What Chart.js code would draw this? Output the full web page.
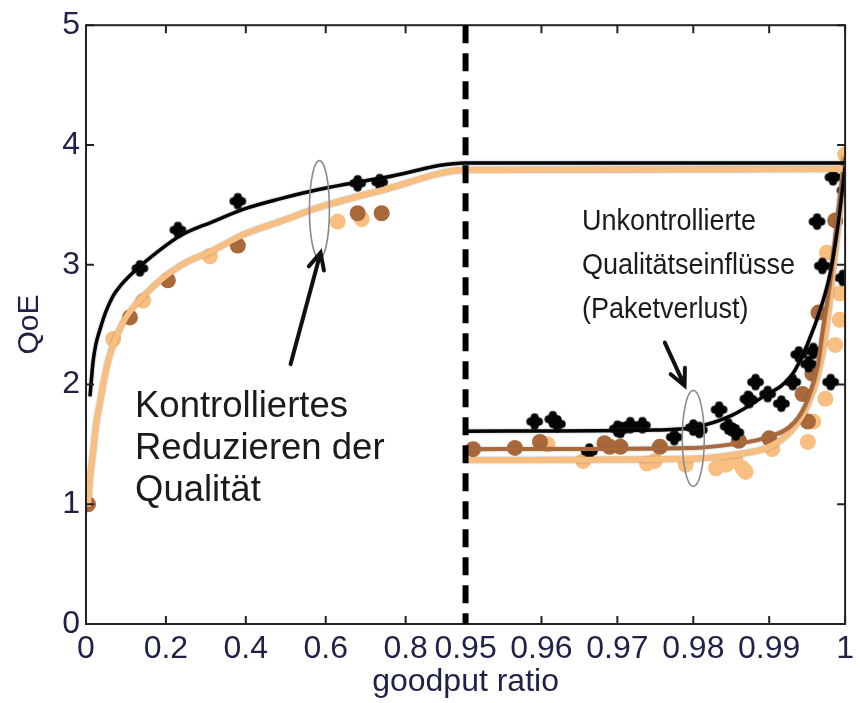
<!DOCTYPE html>
<html>
<head>
<meta charset="utf-8">
<script src="https://cdn.jsdelivr.net/npm/chart.js@4.4.1/dist/chart.umd.min.js"></script>
<style>
  html, body { margin: 0; padding: 0; background: #fff; }
  #wrap { width: 860px; height: 703px; position: relative; }
</style>
</head>
<body>
<div id="wrap"><canvas id="qoeChart"></canvas></div>
<script>
// goodput ratio -> position on the split axis (0..0.95 left half, 0.95..1 right half)
function toPos(g) {
  return g <= 0.95 ? g / 0.95 : 1 + (g - 0.95) / 0.05;
}

// x ticks
const xTickValues = [0, 0.2, 0.4, 0.6, 0.8, 0.95, 0.96, 0.97, 0.98, 0.99, 1];
const xTickLabels = ["0", "0.2", "0.4", "0.6", "0.8", "0.95", "0.96", "0.97", "0.98", "0.99", "1"];

// fitted curves: controlled quality reduction (continues flat above 0.95)
const ctrlBlackX = [0.01, 0.014, 0.018, 0.025, 0.035, 0.05, 0.068, 0.09, 0.11, 0.15, 0.235, 0.318, 0.40, 0.485, 0.585, 0.75, 0.95, 1.0];
const ctrlBlackY = [1.90, 2.06, 2.20, 2.34, 2.46, 2.61, 2.74, 2.84, 2.91, 3.03, 3.24, 3.36, 3.47, 3.55, 3.63, 3.73, 3.85, 3.85];
const ctrlOrangeX = [0.005, 0.01, 0.018, 0.025, 0.035, 0.047, 0.06, 0.093, 0.15, 0.235, 0.318, 0.40, 0.485, 0.585, 0.75, 0.95, 1.0];
const ctrlOrangeY = [0.98, 1.22, 1.44, 1.66, 1.85, 2.07, 2.25, 2.52, 2.76, 2.99, 3.12, 3.26, 3.36, 3.48, 3.63, 3.79, 3.80];

// fitted curves: packet loss
const lossBlackX = [0.95, 0.975, 0.98, 0.985, 0.989, 0.993, 0.995, 0.997, 0.998, 0.999, 1.0];
const lossBlackY = [1.61, 1.62, 1.64, 1.74, 1.89, 2.08, 2.33, 2.68, 2.92, 3.30, 3.82];
const lossBrownX = [0.95, 0.98, 0.985, 0.9892, 0.9934, 0.9951, 0.9964, 0.997, 0.998, 0.9991, 1.0];
const lossBrownY = [1.46, 1.47, 1.50, 1.55, 1.69, 1.88, 2.16, 2.43, 2.85, 3.45, 3.90];
const lossOrangeX = [0.95, 0.98, 0.985, 0.99, 0.993, 0.995, 0.9965, 0.9975, 0.9985, 0.9993, 1.0];
const lossOrangeY = [1.37, 1.38, 1.41, 1.48, 1.62, 1.82, 2.10, 2.45, 3.00, 3.45, 3.92];

// measured points
const blackPtsX = [0.135, 0.23, 0.38, 0.68, 0.735,
  0.9591, 0.9615, 0.9621, 0.97, 0.9704, 0.9717, 0.9733, 0.9663, 0.9775, 0.98, 0.9808, 0.9834,
  0.9846, 0.9856, 0.9872, 0.9874, 0.9882, 0.9898, 0.9916, 0.9931, 0.9939, 0.9952, 0.9958,
  0.9963, 0.997, 0.9981, 0.9984, 0.9997, 1.0];
const blackPtsY = [2.97, 3.29, 3.53, 3.68, 3.69,
  1.69, 1.71, 1.67, 1.63, 1.62, 1.66, 1.66, 1.44, 1.56, 1.64, 1.62, 1.79,
  1.65, 1.60, 1.88, 1.87, 2.02, 1.92, 1.84, 2.02, 2.25, 2.17, 2.28,
  3.36, 2.99, 2.02, 3.73, 2.89, 3.62];
const brownPtsX = [0.005, 0.11, 0.205, 0.38, 0.68, 0.74,
  0.951, 0.9565, 0.9598, 0.9683, 0.969, 0.9704, 0.9756, 0.986, 0.99, 0.9951, 0.9944, 0.9957, 0.9965, 0.9987];
const brownPtsY = [1.0, 2.56, 2.87, 3.16, 3.43, 3.43,
  1.46, 1.47, 1.52, 1.51, 1.48, 1.48, 1.48, 1.53, 1.55, 1.69, 1.92, 2.09, 2.60, 3.37];
const orangePtsX = [0.068, 0.143, 0.31, 0.63, 0.69,
  0.9608, 0.9655, 0.9739, 0.9749, 0.979, 0.983, 0.9843, 0.9856, 0.9865, 0.9869, 0.9904,
  0.9951, 0.9958, 0.9974, 0.9976, 0.9987, 0.9993, 0.9993, 1.0];
const orangePtsY = [2.38, 2.70, 3.07, 3.36, 3.38,
  1.50, 1.36, 1.34, 1.36, 1.33, 1.30, 1.33, 1.36, 1.30, 1.27, 1.46,
  1.52, 1.69, 1.88, 3.10, 2.33, 2.76, 2.54, 3.92];

const BLACK = "#050505";
const BROWN = "#a9693b";
const ORANGE = "#f9bf80";
const LABEL = "#1f2146";
const FONT = "'Liberation Sans', Arial, sans-serif";

function toXY(xs, ys) {
  return xs.map((g, i) => ({ x: toPos(g), y: ys[i] }));
}

// chunky plus-shaped blob marker
function blobMarker(color, r) {
  const c = document.createElement("canvas");
  const s = Math.ceil(r * 2 + 2);
  c.width = c.height = s;
  const g = c.getContext("2d");
  const m = s / 2;
  g.fillStyle = color;
  g.beginPath();
  g.arc(m, m, r * 0.7, 0, Math.PI * 2);
  g.fill();
  [[1, 0], [-1, 0], [0, 1], [0, -1]].forEach(([dx, dy]) => {
    g.beginPath();
    g.arc(m + dx * r * 0.5, m + dy * r * 0.5, r * 0.48, 0, Math.PI * 2);
    g.fill();
  });
  return c;
}

function curve(xs, ys, color, width, order) {
  return {
    data: toXY(xs, ys),
    showLine: true,
    borderColor: color,
    borderWidth: width,
    pointRadius: 0,
    cubicInterpolationMode: "monotone",
    halo: true,
    order: order
  };
}

function points(xs, ys, color, style, order) {
  return {
    data: toXY(xs, ys),
    showLine: false,
    pointStyle: style,
    pointRadius: 8,
    backgroundColor: color,
    borderColor: color,
    borderWidth: 0,
    order: order
  };
}

// soft grey edge around the fitted curves
const haloPlugin = {
  id: "halo",
  beforeDatasetDraw(chart, args) {
    if (!args.meta._dataset.halo) return;
    const ctx = chart.ctx;
    ctx.save();
    ctx.shadowColor = "rgba(80,80,80,0.55)";
    ctx.shadowBlur = 2;
  },
  afterDatasetDraw(chart, args) {
    if (!args.meta._dataset.halo) return;
    chart.ctx.restore();
  }
};

// frame, inner ticks, split line and annotations
const decorPlugin = {
  id: "decor",
  afterDatasetsDraw(chart) {
    const { ctx, chartArea: a, scales: { x, y } } = chart;
    ctx.save();

    // frame
    ctx.strokeStyle = "#222";
    ctx.lineWidth = 2;
    ctx.strokeRect(a.left, a.top, a.right - a.left, a.bottom - a.top);

    // inner tick marks on all four sides
    const tl = 8;
    ctx.beginPath();
    xTickValues.forEach(v => {
      const px = x.getPixelForValue(toPos(v));
      ctx.moveTo(px, a.bottom); ctx.lineTo(px, a.bottom - tl);
      ctx.moveTo(px, a.top); ctx.lineTo(px, a.top + tl);
    });
    for (let v = 0; v <= 5; v++) {
      const py = y.getPixelForValue(v);
      ctx.moveTo(a.left, py); ctx.lineTo(a.left + tl, py);
      ctx.moveTo(a.right, py); ctx.lineTo(a.right - tl, py);
    }
    ctx.stroke();

    // dashed split at 0.95
    const sx = x.getPixelForValue(1);
    ctx.strokeStyle = "#000";
    ctx.lineWidth = 6;
    ctx.setLineDash([18, 10]);
    ctx.beginPath();
    ctx.moveTo(sx, a.top);
    ctx.lineTo(sx, a.bottom);
    ctx.stroke();
    ctx.setLineDash([]);

    // grey ellipses marking the two groups
    ctx.strokeStyle = "#8a8a8a";
    ctx.lineWidth = 1.6;
    [[0.615, 3.46, 10, 49], [1.60, 1.55, 11, 48]].forEach(([px, py, rx, ry]) => {
      ctx.beginPath();
      ctx.ellipse(x.getPixelForValue(px), y.getPixelForValue(py), rx, ry, 0, 0, Math.PI * 2);
      ctx.stroke();
    });

    // arrows
    ctx.strokeStyle = "#111";
    ctx.lineWidth = 4;
    ctx.lineCap = "round";
    [[0.539, 2.17, 0.618, 3.10], [1.525, 2.35, 1.577, 1.99]].forEach(([x0, y0, x1, y1]) => {
      const ax = x.getPixelForValue(x0), ay = y.getPixelForValue(y0);
      const bx = x.getPixelForValue(x1), by = y.getPixelForValue(y1);
      const ang = Math.atan2(by - ay, bx - ax);
      ctx.beginPath();
      ctx.moveTo(ax, ay); ctx.lineTo(bx, by);
      ctx.moveTo(bx - 18 * Math.cos(ang - 0.45), by - 18 * Math.sin(ang - 0.45));
      ctx.lineTo(bx, by);
      ctx.lineTo(bx - 18 * Math.cos(ang + 0.45), by - 18 * Math.sin(ang + 0.45));
      ctx.stroke();
    });

    // annotation texts
    ctx.fillStyle = "#1b1b1b";
    ctx.textBaseline = "alphabetic";
    ctx.font = "36.5px " + FONT;
    ["Kontrolliertes", "Reduzieren der", "Qualität"].forEach((t, i) => ctx.fillText(t, 135, 417 + i * 42));
    // right-hand label, slightly narrower set
    ctx.save();
    ctx.translate(582, 0);
    ctx.scale(0.9, 1);
    ctx.font = "30px " + FONT;
    ["Unkontrollierte", "Qualitätseinflüsse", "(Paketverlust)"].forEach((t, i) => ctx.fillText(t, 0, 230 + i * 44));
    ctx.restore();

    ctx.restore();
  }
};

const blackBlob = blobMarker(BLACK, 8.5);

new Chart(document.getElementById("qoeChart"), {
  type: "scatter",
  data: {
    datasets: [
      curve(ctrlBlackX, ctrlBlackY, BLACK, 3.5, 0),
      curve(ctrlOrangeX, ctrlOrangeY, ORANGE, 6, 1),
      curve(lossBlackX, lossBlackY, BLACK, 3.5, 0),
      curve(lossBrownX, lossBrownY, BROWN, 4, 1),
      curve(lossOrangeX, lossOrangeY, ORANGE, 6, 2),
      points(blackPtsX, blackPtsY, BLACK, blackBlob, 3),
      points(brownPtsX, brownPtsY, BROWN, "circle", 4),
      points(orangePtsX, orangePtsY, ORANGE, "circle", 5)
    ]
  },
  options: {
    responsive: true,
    maintainAspectRatio: false,
    animation: false,
    layout: { padding: { top: 20, right: 10, left: 0, bottom: 0 } },
    plugins: { legend: { display: false }, tooltip: { enabled: false } },
    scales: {
      x: {
        type: "linear",
        min: 0,
        max: 2,
        grid: { display: false, drawTicks: false },
        border: { display: false },
        afterBuildTicks: s => { s.ticks = xTickValues.map(v => ({ value: toPos(v) })); },
        afterFit: s => { s.height = 79; },
        ticks: {
          autoSkip: false,
          maxRotation: 0,
          minRotation: 0,
          padding: 6,
          color: LABEL,
          font: { family: FONT, size: 32 },
          callback: (v, i) => xTickLabels[i]
        },
        title: {
          display: true,
          text: "goodput ratio",
          color: LABEL,
          padding: { top: 0, bottom: 2 },
          font: { family: FONT, size: 32 }
        }
      },
      y: {
        min: 0,
        max: 5,
        grid: { display: false, drawTicks: false },
        border: { display: false },
        afterFit: s => { s.width = 86; },
        ticks: {
          stepSize: 1,
          padding: 6,
          color: LABEL,
          font: { family: FONT, size: 32 }
        },
        title: {
          display: true,
          text: "QoE",
          color: LABEL,
          padding: { top: 12, bottom: 0 },
          font: { family: FONT, size: 30 }
        }
      }
    }
  },
  plugins: [haloPlugin, decorPlugin]
});
</script>
</body>
</html>
